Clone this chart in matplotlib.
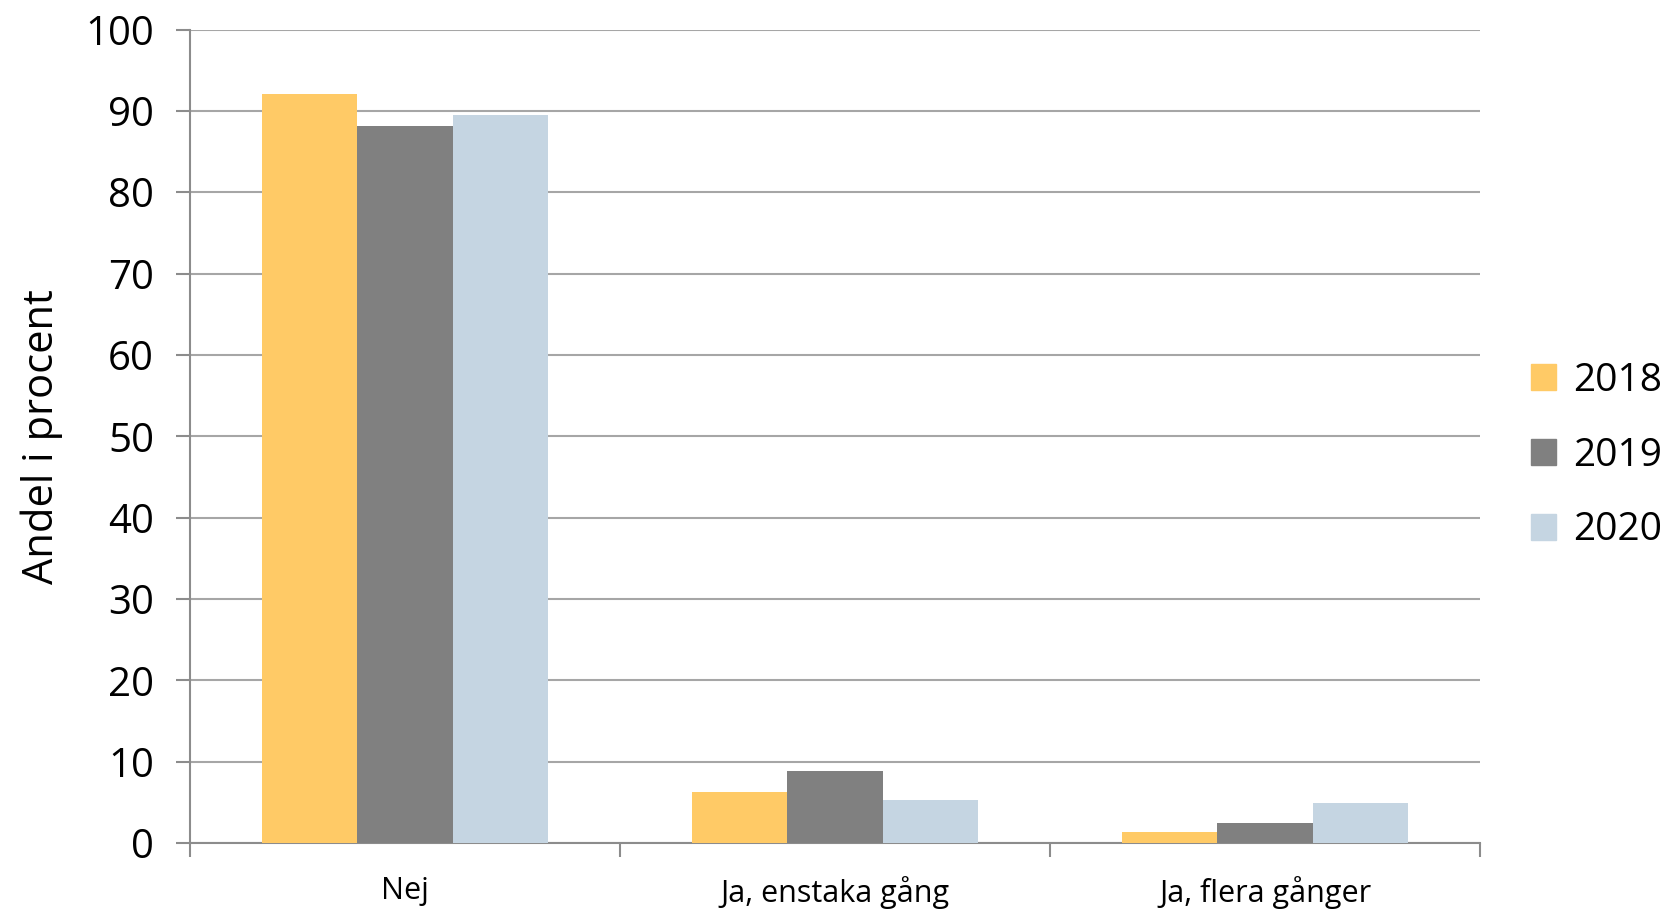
import numpy as np
import matplotlib
matplotlib.use("Agg")
import matplotlib.pyplot as plt
from matplotlib.patches import Patch

categories = ["Nej", "Ja, enstaka gång", "Ja, flera gånger"]
years = ["2018", "2019", "2020"]
v2018 = [92.1, 6.3, 1.3]
v2019 = [88.2, 8.9, 2.5]
v2020 = [89.5, 5.3, 4.9]
colors = ["#FFCA66", "#808080", "#C5D5E2"]

plt.rcParams['font.family'] = ['Open Sans', 'DejaVu Sans']

fig = plt.figure(figsize=(16.71, 9.11), dpi=100)
ax = fig.add_axes([0.1137, 0.0746, 0.772, 0.893])

x = np.arange(len(categories))
w = 0.222
for k, vals in enumerate([v2018, v2019, v2020]):
    ax.bar(x + (k - 1) * w, vals, w, color=colors[k], zorder=3)

ax.set_xlim(-0.5, 2.5)
ax.set_ylim(0, 100)
ax.set_yticks(np.arange(0, 101, 10))
ax.yaxis.grid(True, color="#A6A6A6", linewidth=1.5, zorder=0)
ax.set_axisbelow(True)

for s in ["top", "right"]:
    ax.spines[s].set_visible(False)
for s in ["left", "bottom"]:
    ax.spines[s].set_color("#8C8C8C")
    ax.spines[s].set_linewidth(1.5)

ax.set_xticks(x)
ax.set_xticklabels(categories, fontsize=22)
ax.tick_params(axis="x", length=0, pad=24)
ax.set_xticks([-0.5, 0.5, 1.5, 2.5], minor=True)
ax.tick_params(axis="x", which="minor", length=10, width=1.5, color="#8C8C8C")
ax.tick_params(axis="y", length=10, width=1.5, color="#8C8C8C", labelsize=29, pad=16)
ax.set_ylabel("Andel i procent", fontsize=30, labelpad=16)

handles = [Patch(color=c) for c in colors]
fig.legend(handles, years, loc="center left", bbox_to_anchor=(0.895, 0.5),
           frameon=False, fontsize=28, handlelength=0.65, handleheight=0.65,
           handletextpad=0.45, labelspacing=0.95)

fig.savefig("out.png", dpi=100)
